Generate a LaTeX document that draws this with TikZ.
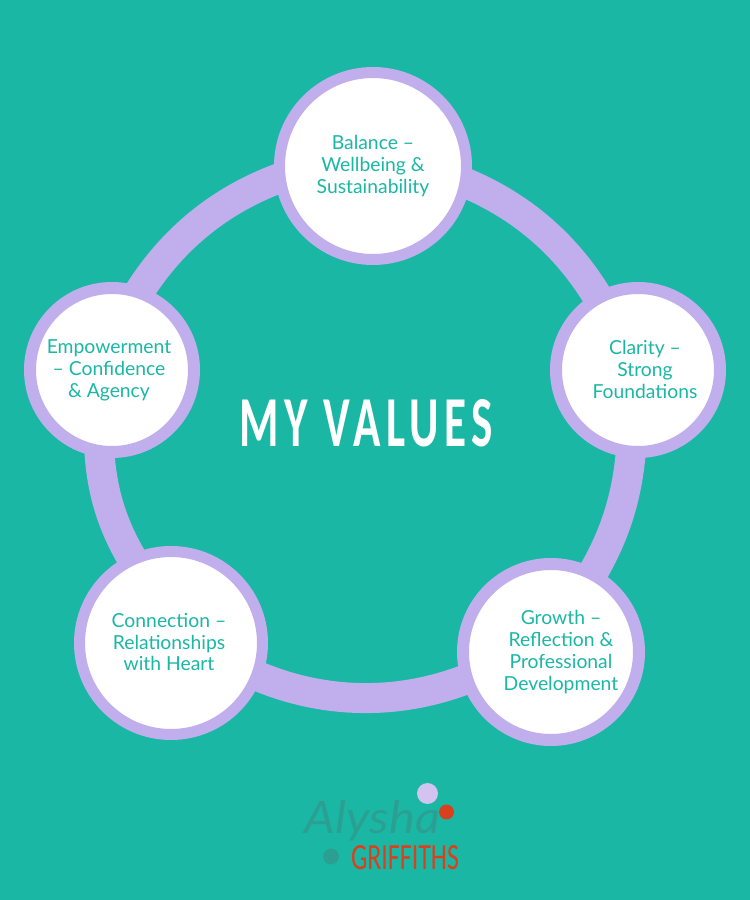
\documentclass[tikz,border=0pt]{standalone}
\usepackage{graphicx}
\usepackage{fontspec}
\setmainfont{Lato}
\newfontfamily\titlefont[LetterSpace=12]{Carlito}
\newfontfamily\logofont{Carlito}
\usetikzlibrary{backgrounds}
\definecolor{tealbg}{HTML}{1BB7A5}
\definecolor{lavender}{HTML}{C1AEED}
\definecolor{lavenderlight}{HTML}{D2C3F0}
\definecolor{tealdark}{HTML}{2BA092}
\definecolor{logored}{HTML}{D9411E}
\tikzset{
	%Define style for the circles
	valuenode/.style={
		circle,
		draw=lavender,
		fill=white,
		inner sep=0},
	%Define style for the texts in the circles
	valuetext/.style={
		align=center,
		text=tealbg,
		inner sep=0,
		font=\fontsize{11}{12.5}\selectfont},
	% Define style for the ring pieces
	ringpiece/.style={
		lavender,
		line width=0.6cm,
		looseness=0.87,
		shorten <=-3pt,
		shorten >=-3pt},
	blob/.style={
		circle,
		inner sep=0}
}
\begin{document}
\begin{tikzpicture}
	\node[valuenode,line width=0.22cm,minimum size={3.74cm}] (balance) at (7.46, 14.68) {};
	\node[valuenode,line width=0.24cm,minimum size={3.28cm}] (clarity) at (12.76, 10.60) {};
	\node[valuenode,line width=0.24cm,minimum size={3.52cm}] (growth) at (11.02, 4.96) {};
	\node[valuenode,line width=0.22cm,minimum size={3.66cm}] (connection) at (3.42, 5.14) {};
	\node[valuenode,line width=0.24cm,minimum size={3.28cm}] (empowerment) at (2.24, 10.60) {};
	\node[valuetext] (balancetext) at (balance) {Balance --\\Wellbeing \&\\Sustainability};
	\node[valuetext] (claritytext) at ([xshift=0.14cm,yshift=0.02cm]clarity) {Clarity --\\Strong\\Foundations};
	\node[valuetext] (growthtext) at ([xshift=0.2cm]growth) {Growth --\\Reflection \&\\Professional\\Development};
	\node[valuetext] (connectiontext) at ([xshift=-0.04cm,yshift=0.02cm]connection) {Connection --\\Relationships\\with Heart};
	\node[valuetext] (empowermenttext) at ([xshift=-0.06cm]empowerment) {Empowerment\\-- Confidence\\\& Agency};
	\node[text=white,inner sep=0] (title) at (7.33, 9.54) {\resizebox{5.06cm}{0.94cm}{\titlefont\bfseries MY VALUES}};
	% logo
	\node[text=tealdark,inner sep=0] (alysha) at (7.45, 1.58) {\resizebox{2.7cm}{0.66cm}{\itshape Alysha}};
	\node[text=logored,inner sep=0] (griffiths) at (8.10, 0.84) {\resizebox{2.16cm}{0.48cm}{\logofont GRIFFITHS}};
	\node[blob,fill=lavenderlight,minimum size={0.42cm}] (blobtop) at (8.55, 2.13) {};
	\node[blob,fill=logored,minimum size={0.30cm}] (blobred) at (8.93, 1.76) {};
	\node[blob,fill=tealdark,minimum size={0.32cm}] (blobdark) at (6.62, 0.87) {};
	\begin{pgfonlayer}{background}
	\fill[tealbg] (0,0) rectangle (15,18);
	\draw[ringpiece] (balance.-11.7) to [bend left=18] (clarity.119.7);
	\draw[ringpiece] (clarity.265.9) to [bend left=12.6] (growth.62);
	\draw[ringpiece] (growth.198.2) to [bend left=22] (connection.-21);
	\draw[ringpiece] (connection.115.5) to [bend left=13.5] (empowerment.262.3);
	\draw[ringpiece] (empowerment.70.1) to [bend left=18.6] (balance.188.7);
	\end{pgfonlayer}
\end{tikzpicture}
\end{document}
